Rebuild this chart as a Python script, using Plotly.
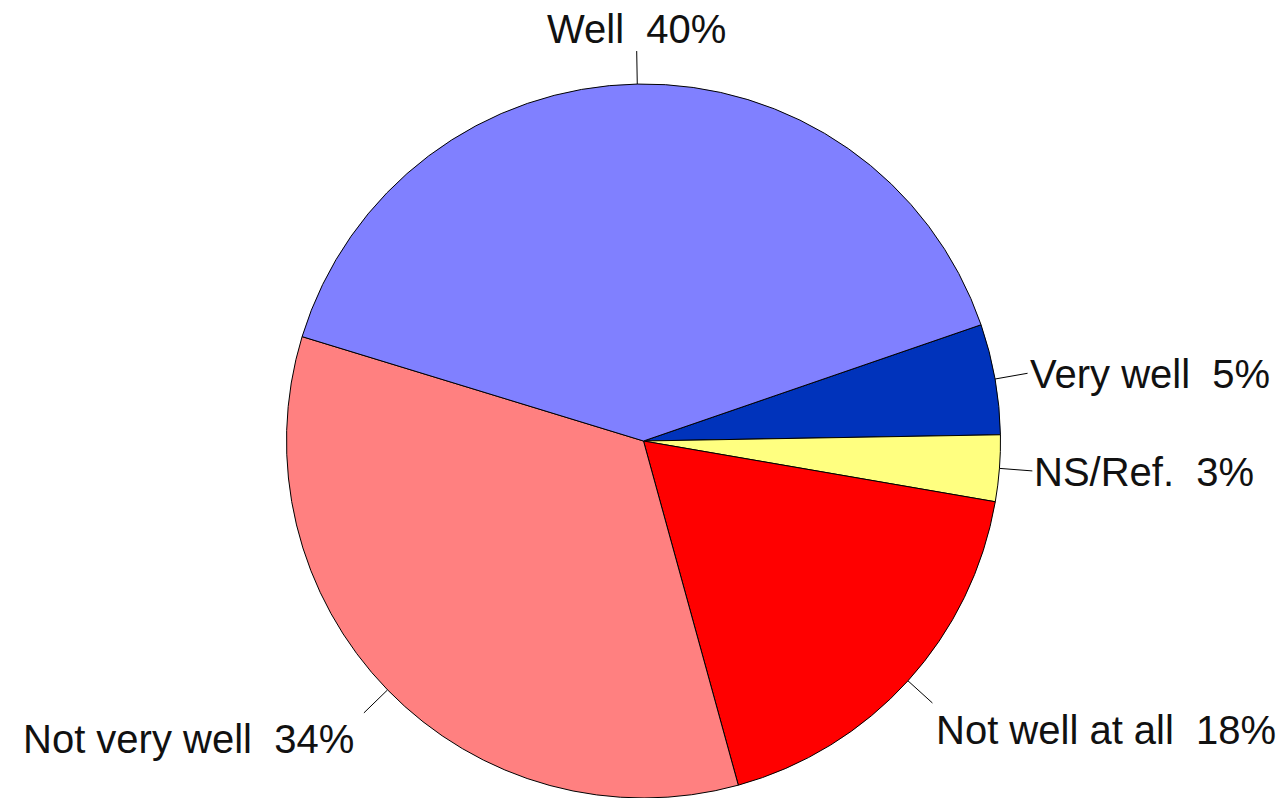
import math
import plotly.graph_objects as go

labels = ["Very well", "NS/Ref.", "Not well at all", "Not very well", "Well"]
values = [5, 3, 18, 34, 40]
colors = ["#0033BB", "#FFFF80", "#FF0000", "#FF8080", "#8080FF"]

W, H = 1283, 798
ML, MR, MT, MB = 4, 0, 84, 0
ROTATION = 71
LEADER = 33
FONT = dict(family="Arial, Liberation Sans, sans-serif", size=40, color="#111111")

fig = go.Figure(go.Pie(
    labels=labels, values=values, sort=False, direction="clockwise",
    rotation=ROTATION, textinfo="none", hoverinfo="label+percent",
    marker=dict(colors=colors, line=dict(color="#000000", width=1)),
    showlegend=False,
))

pw, ph = W - ML - MR, H - MT - MB
cx, cy = ML + pw / 2, MT + ph / 2
R = min(pw, ph) / 2


def to_paper(px, py):
    return (px - ML) / pw, 1 - (py - MT) / ph


total = sum(values)
cum = 0
shapes, annots = [], []
for lab, v in zip(labels, values):
    mid = math.radians(ROTATION + (cum + v / 2) / total * 360)
    cum += v
    s, c = math.sin(mid), -math.cos(mid)
    ex, ey = cx + R * s, cy + R * c
    lx, ly = cx + (R + LEADER) * s, cy + (R + LEADER) * c
    x0, y0 = to_paper(ex, ey)
    x1, y1 = to_paper(lx, ly)
    shapes.append(dict(type="line", xref="paper", yref="paper", x0=x0, y0=y0, x1=x1, y1=y1,
                       line=dict(color="#000000", width=1)))
    pct = round(v / total * 100)
    txt = f"{lab}  {pct}%"
    if abs(s) < 0.3:
        xa, ya, xs, ys = "center", "bottom", 0, -2
    elif s > 0:
        xa = "left"
        ya, xs, ys = ("middle", 0, -1) if c < 0.5 else ("top", 2, -3)
    else:
        xa, ya, xs, ys = "right", "top", -8, -2
    annots.append(dict(x=x1, y=y1, xref="paper", yref="paper", text=txt, showarrow=False,
                       xanchor=xa, yanchor=ya, xshift=xs, yshift=ys, font=FONT))

fig.update_layout(
    width=W, height=H,
    margin=dict(l=ML, r=MR, t=MT, b=MB, autoexpand=False),
    paper_bgcolor="#FFFFFF", plot_bgcolor="#FFFFFF",
    shapes=shapes, annotations=annots,
)
fig.write_html("out.html", config={"displayModeBar": False},
               post_script="document.body.style.margin='0';document.body.style.overflow='hidden';")
